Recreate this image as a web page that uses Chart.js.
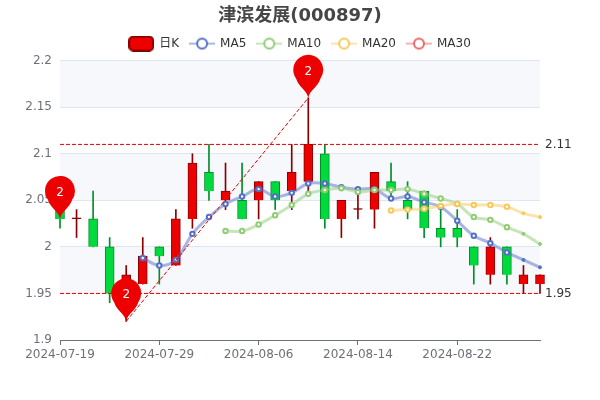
<!DOCTYPE html>
<html>
<head>
<meta charset="utf-8">
<style>
  html, body { margin: 0; padding: 0; background: #fff; }
  canvas { display: block; }
</style>
<script src="https://cdn.jsdelivr.net/npm/chart.js@4/dist/chart.umd.min.js"></script>
</head>
<body>
<canvas id="kline" width="600" height="400"></canvas>
<script>
const dates = ['2024-07-19', '2024-07-22', '2024-07-23', '2024-07-24', '2024-07-25', '2024-07-26',
    '2024-07-29', '2024-07-30', '2024-07-31', '2024-08-01', '2024-08-02', '2024-08-05',
    '2024-08-06', '2024-08-07', '2024-08-08', '2024-08-09', '2024-08-12', '2024-08-13',
    '2024-08-14', '2024-08-15', '2024-08-16', '2024-08-19', '2024-08-20', '2024-08-21',
    '2024-08-22', '2024-08-23', '2024-08-26', '2024-08-27', '2024-08-28', '2024-08-29'];
const xTickDates = ['2024-07-19', '2024-07-29', '2024-08-06', '2024-08-14', '2024-08-22'];
const yTickValues = [1.9, 1.95, 2, 2.05, 2.1, 2.15, 2.2];

const opens  = [2.04, 2.03, 2.03, 2.00, 1.95, 1.96, 2.00, 1.98, 2.03, 2.08, 2.05, 2.05, 2.05, 2.07, 2.06,
    2.07, 2.10, 2.03, 2.04, 2.04, 2.07, 2.05, 2.06, 2.02, 2.02, 2.00, 1.97, 2.00, 1.96, 1.96];
const closes = [2.03, 2.03, 2.00, 1.95, 1.97, 1.99, 1.99, 2.03, 2.09, 2.06, 2.06, 2.03, 2.07, 2.05, 2.08,
    2.11, 2.03, 2.05, 2.04, 2.08, 2.06, 2.04, 2.02, 2.01, 2.01, 1.98, 2.00, 1.97, 1.97, 1.97];
const lows   = [2.02, 2.01, 2.00, 1.94, 1.92, 1.96, 1.96, 1.98, 2.02, 2.05, 2.04, 2.03, 2.03, 2.04, 2.04,
    2.06, 2.02, 2.01, 2.03, 2.02, 2.05, 2.03, 2.01, 2.00, 2.00, 1.96, 1.96, 1.96, 1.95, 1.95];
const highs  = [2.04, 2.04, 2.06, 2.01, 1.98, 2.01, 2.00, 2.04, 2.10, 2.11, 2.09, 2.09, 2.07, 2.07, 2.11,
    2.16, 2.11, 2.05, 2.06, 2.08, 2.09, 2.07, 2.06, 2.04, 2.04, 2.00, 2.01, 2.00, 1.98, 1.97];

const ma5 = [null, null, null, null, null, 1.988, 1.98, 1.986, 2.014, 2.032, 2.046, 2.054, 2.062, 2.054, 2.058,
    2.068, 2.068, 2.064, 2.062, 2.062, 2.052, 2.054, 2.048, 2.043, 2.028, 2.012, 2.004, 1.994, 1.986, 1.978];
const ma10 = [null, null, null, null, null, null, null, null, null, null, 2.017, 2.017, 2.024, 2.034, 2.045,
    2.057, 2.061, 2.063, 2.059, 2.061, 2.061, 2.062, 2.057, 2.052, 2.046, 2.032, 2.029, 2.021, 2.014, 2.003];
const ma20 = [null, null, null, null, null, null, null, null, null, null, null, null, null, null, null,
    null, null, null, null, null, 2.039, 2.04, 2.041, 2.044, 2.046, 2.045, 2.045, 2.043, 2.036, 2.032];
const ma30 = [];

const markLevels = [2.11, 1.95];
const pinDates = ['2024-07-19', '2024-07-25', '2024-08-09'];
const pinValues = [2.03, 1.92, 2.16];
const pinLabels = ['2', '2', '2'];

const upColor = '#ec0000', upBorder = '#8a0000';
const downColor = '#00da3c', downBorder = '#008f28';
const fontStack = "'DejaVu Sans', 'Noto Sans CJK SC', sans-serif";

Chart.defaults.font.family = fontStack;

// ------ legend icons ------
function maIcon(color) {
    const c = document.createElement('canvas');
    c.width = 26;
    c.height = 16;
    const g = c.getContext('2d');
    g.globalAlpha = 0.5;
    g.strokeStyle = color;
    g.lineWidth = 2;
    g.beginPath();
    g.moveTo(0, 8);
    g.lineTo(26, 8);
    g.stroke();
    g.globalAlpha = 1;
    g.fillStyle = '#fff';
    g.beginPath();
    g.arc(13, 8, 5, 0, Math.PI * 2);
    g.fill();
    g.stroke();
    return c;
}

function candleIcon() {
    const c = document.createElement('canvas');
    c.width = 26;
    c.height = 16;
    const g = c.getContext('2d');
    g.fillStyle = upColor;
    g.strokeStyle = upBorder;
    g.lineWidth = 2;
    g.beginPath();
    g.roundRect(1, 1, 24, 14, 4);
    g.fill();
    g.stroke();
    return c;
}

// ------ small plugin for the things chart.js has no option for ------
const decorations = {
    id: 'decorations',
    beforeDraw(chart) {
        // alternating bands behind the grid
        const { ctx, chartArea, scales } = chart;
        ctx.save();
        ctx.fillStyle = 'rgba(210,219,238,0.2)';
        for (let i = yTickValues.length - 1; i > 0; i -= 2) {
            const top = scales.y.getPixelForValue(yTickValues[i]);
            const bottom = scales.y.getPixelForValue(yTickValues[i - 1]);
            ctx.fillRect(chartArea.left, top, chartArea.width, bottom - top);
        }
        ctx.restore();
    },
    afterDraw(chart) {
        const { ctx, chartArea, scales } = chart;
        ctx.save();
        // values at the end of the mark lines
        ctx.font = '12px ' + fontStack;
        ctx.fillStyle = '#333';
        ctx.textAlign = 'left';
        ctx.textBaseline = 'middle';
        markLevels.forEach(function(level) {
            ctx.fillText(String(level), chartArea.right + 5, scales.y.getPixelForValue(level));
        });
        // pins, tip sits on the value
        pinDates.forEach(function(date, i) {
            const x = scales.x.getPixelForValue(dates.indexOf(date));
            const y = scales.y.getPixelForValue(pinValues[i]);
            const cy = y - 28;
            ctx.fillStyle = upColor;
            ctx.beginPath();
            ctx.arc(x, cy, 15, Math.PI * 0.8, Math.PI * 0.2);
            ctx.bezierCurveTo(x + 9, cy + 18, x + 1.5, cy + 20, x, y);
            ctx.bezierCurveTo(x - 1.5, cy + 20, x - 9, cy + 18, x - 12.1, cy + 8.8);
            ctx.fill();
            ctx.fillStyle = '#fff';
            ctx.textAlign = 'center';
            ctx.fillText(pinLabels[i], x, cy + 2);
        });
        ctx.restore();
    }
};

function maDataset(label, data, color, order) {
    return {
        type: 'line',
        label: label,
        data: data,
        order: order,
        clip: false,
        borderColor: color + '80',
        borderWidth: 3,
        tension: 0.35,
        pointRadius: function(c) { return c.dataIndex >= 28 ? 1.5 : 2.2; },
        pointBorderWidth: function(c) { return c.dataIndex >= 28 ? 1 : 2; },
        pointBorderColor: color,
        pointBackgroundColor: function(c) { return c.dataIndex >= 28 ? color : '#fff'; }
    };
}

function markDataset(points, order) {
    return {
        type: 'line',
        data: points,
        order: order,
        borderColor: '#e60000',
        borderWidth: 1,
        borderDash: [4, 2],
        pointRadius: 0,
        tension: 0
    };
}

const isUp = closes.map(function(v, i) { return v >= opens[i]; });
const isDoji = closes.map(function(v, i) { return v === opens[i]; });

new Chart(document.getElementById('kline'), {
    type: 'bar',
    plugins: [decorations],
    data: {
        labels: dates,
        datasets: [
            markDataset([{ x: dates[0], y: markLevels[0] }, { x: dates[29], y: markLevels[0] }], 1),
            markDataset([{ x: dates[0], y: markLevels[1] }, { x: dates[29], y: markLevels[1] }], 1),
            markDataset([{ x: dates[4], y: lows[4] }, { x: dates[15], y: highs[15] }], 1),
            maDataset('MA30', ma30, '#ee6666', 2),
            maDataset('MA20', ma20, '#fac858', 3),
            maDataset('MA10', ma10, '#91cc75', 4),
            maDataset('MA5', ma5, '#5470c6', 5),
            {
                label: '日K',
                data: opens.map(function(v, i) { return [v, closes[i]]; }),
                order: 6,
                clip: false,
                barThickness: 9,
                minBarLength: 1,
                borderWidth: 1,
                backgroundColor: isUp.map(function(up, i) {
                    if (isDoji[i]) return up ? upBorder : downBorder;
                    return up ? upColor : downColor;
                }),
                borderColor: isUp.map(function(up) { return up ? upBorder : downBorder; })
            },
            {
                label: 'wick',
                data: lows.map(function(v, i) { return [v, highs[i]]; }),
                order: 7,
                clip: false,
                barThickness: 1,
                backgroundColor: isUp.map(function(up) { return up ? upBorder : downBorder; })
            }
        ]
    },
    options: {
        responsive: false,
        animation: false,
        datasets: { bar: { grouped: false } },
        scales: {
            x: {
                offset: false,
                afterBuildTicks: function(scale) {
                    scale.ticks = scale.ticks.filter(function(t) {
                        return xTickDates.includes(dates[t.value]);
                    });
                },
                afterFit: function(scale) { scale.height = 60; },
                grid: { offset: false, drawOnChartArea: false, color: '#6e7079', tickLength: 5 },
                border: { color: '#6e7079' },
                ticks: { color: '#6e7079', font: { size: 12 }, autoSkip: false, maxRotation: 0, padding: 3 }
            },
            y: {
                min: 1.9,
                max: 2.2,
                afterBuildTicks: function(scale) {
                    scale.ticks = yTickValues.map(function(v) { return { value: v }; });
                },
                afterFit: function(scale) { scale.width = 60; },
                grid: { color: '#e0e6f1', drawTicks: false },
                border: { display: false },
                ticks: {
                    color: '#6e7079',
                    font: { size: 12 },
                    padding: 8,
                    callback: function(v) { return String(v); }
                }
            },
            // empty axes, only keep margins so title and legend stay centred and the plot starts at y=60
            rightGap: {
                position: 'right',
                min: 0,
                max: 1,
                afterFit: function(scale) { scale.width = 60; },
                grid: { display: false },
                border: { display: false },
                ticks: { display: false }
            },
            topGap: {
                axis: 'x',
                type: 'linear',
                position: 'top',
                min: 0,
                max: 1,
                afterFit: function(scale) { scale.height = 1; },
                grid: { display: false },
                border: { display: false },
                ticks: { display: false }
            }
        },
        plugins: {
            tooltip: { enabled: false },
            title: {
                display: true,
                text: '津滨发展(000897)',
                color: '#464646',
                font: { size: 18, weight: 'bold' },
                padding: { top: 6, bottom: -1 }
            },
            legend: {
                display: true,
                position: 'top',
                labels: {
                    usePointStyle: true,
                    pointStyleWidth: 24,
                    padding: 11,
                    color: '#333',
                    font: { size: 12 },
                    generateLabels: function() {
                        const rows = [['日K', candleIcon()], ['MA5', maIcon('#5470c6')], ['MA10', maIcon('#91cc75')],
                            ['MA20', maIcon('#fac858')], ['MA30', maIcon('#ee6666')]];
                        return rows.map(function(r) {
                            return { text: r[0], pointStyle: r[1], fontColor: '#333', lineWidth: 0, hidden: false };
                        });
                    }
                }
            }
        }
    }
});
</script>
</body>
</html>
